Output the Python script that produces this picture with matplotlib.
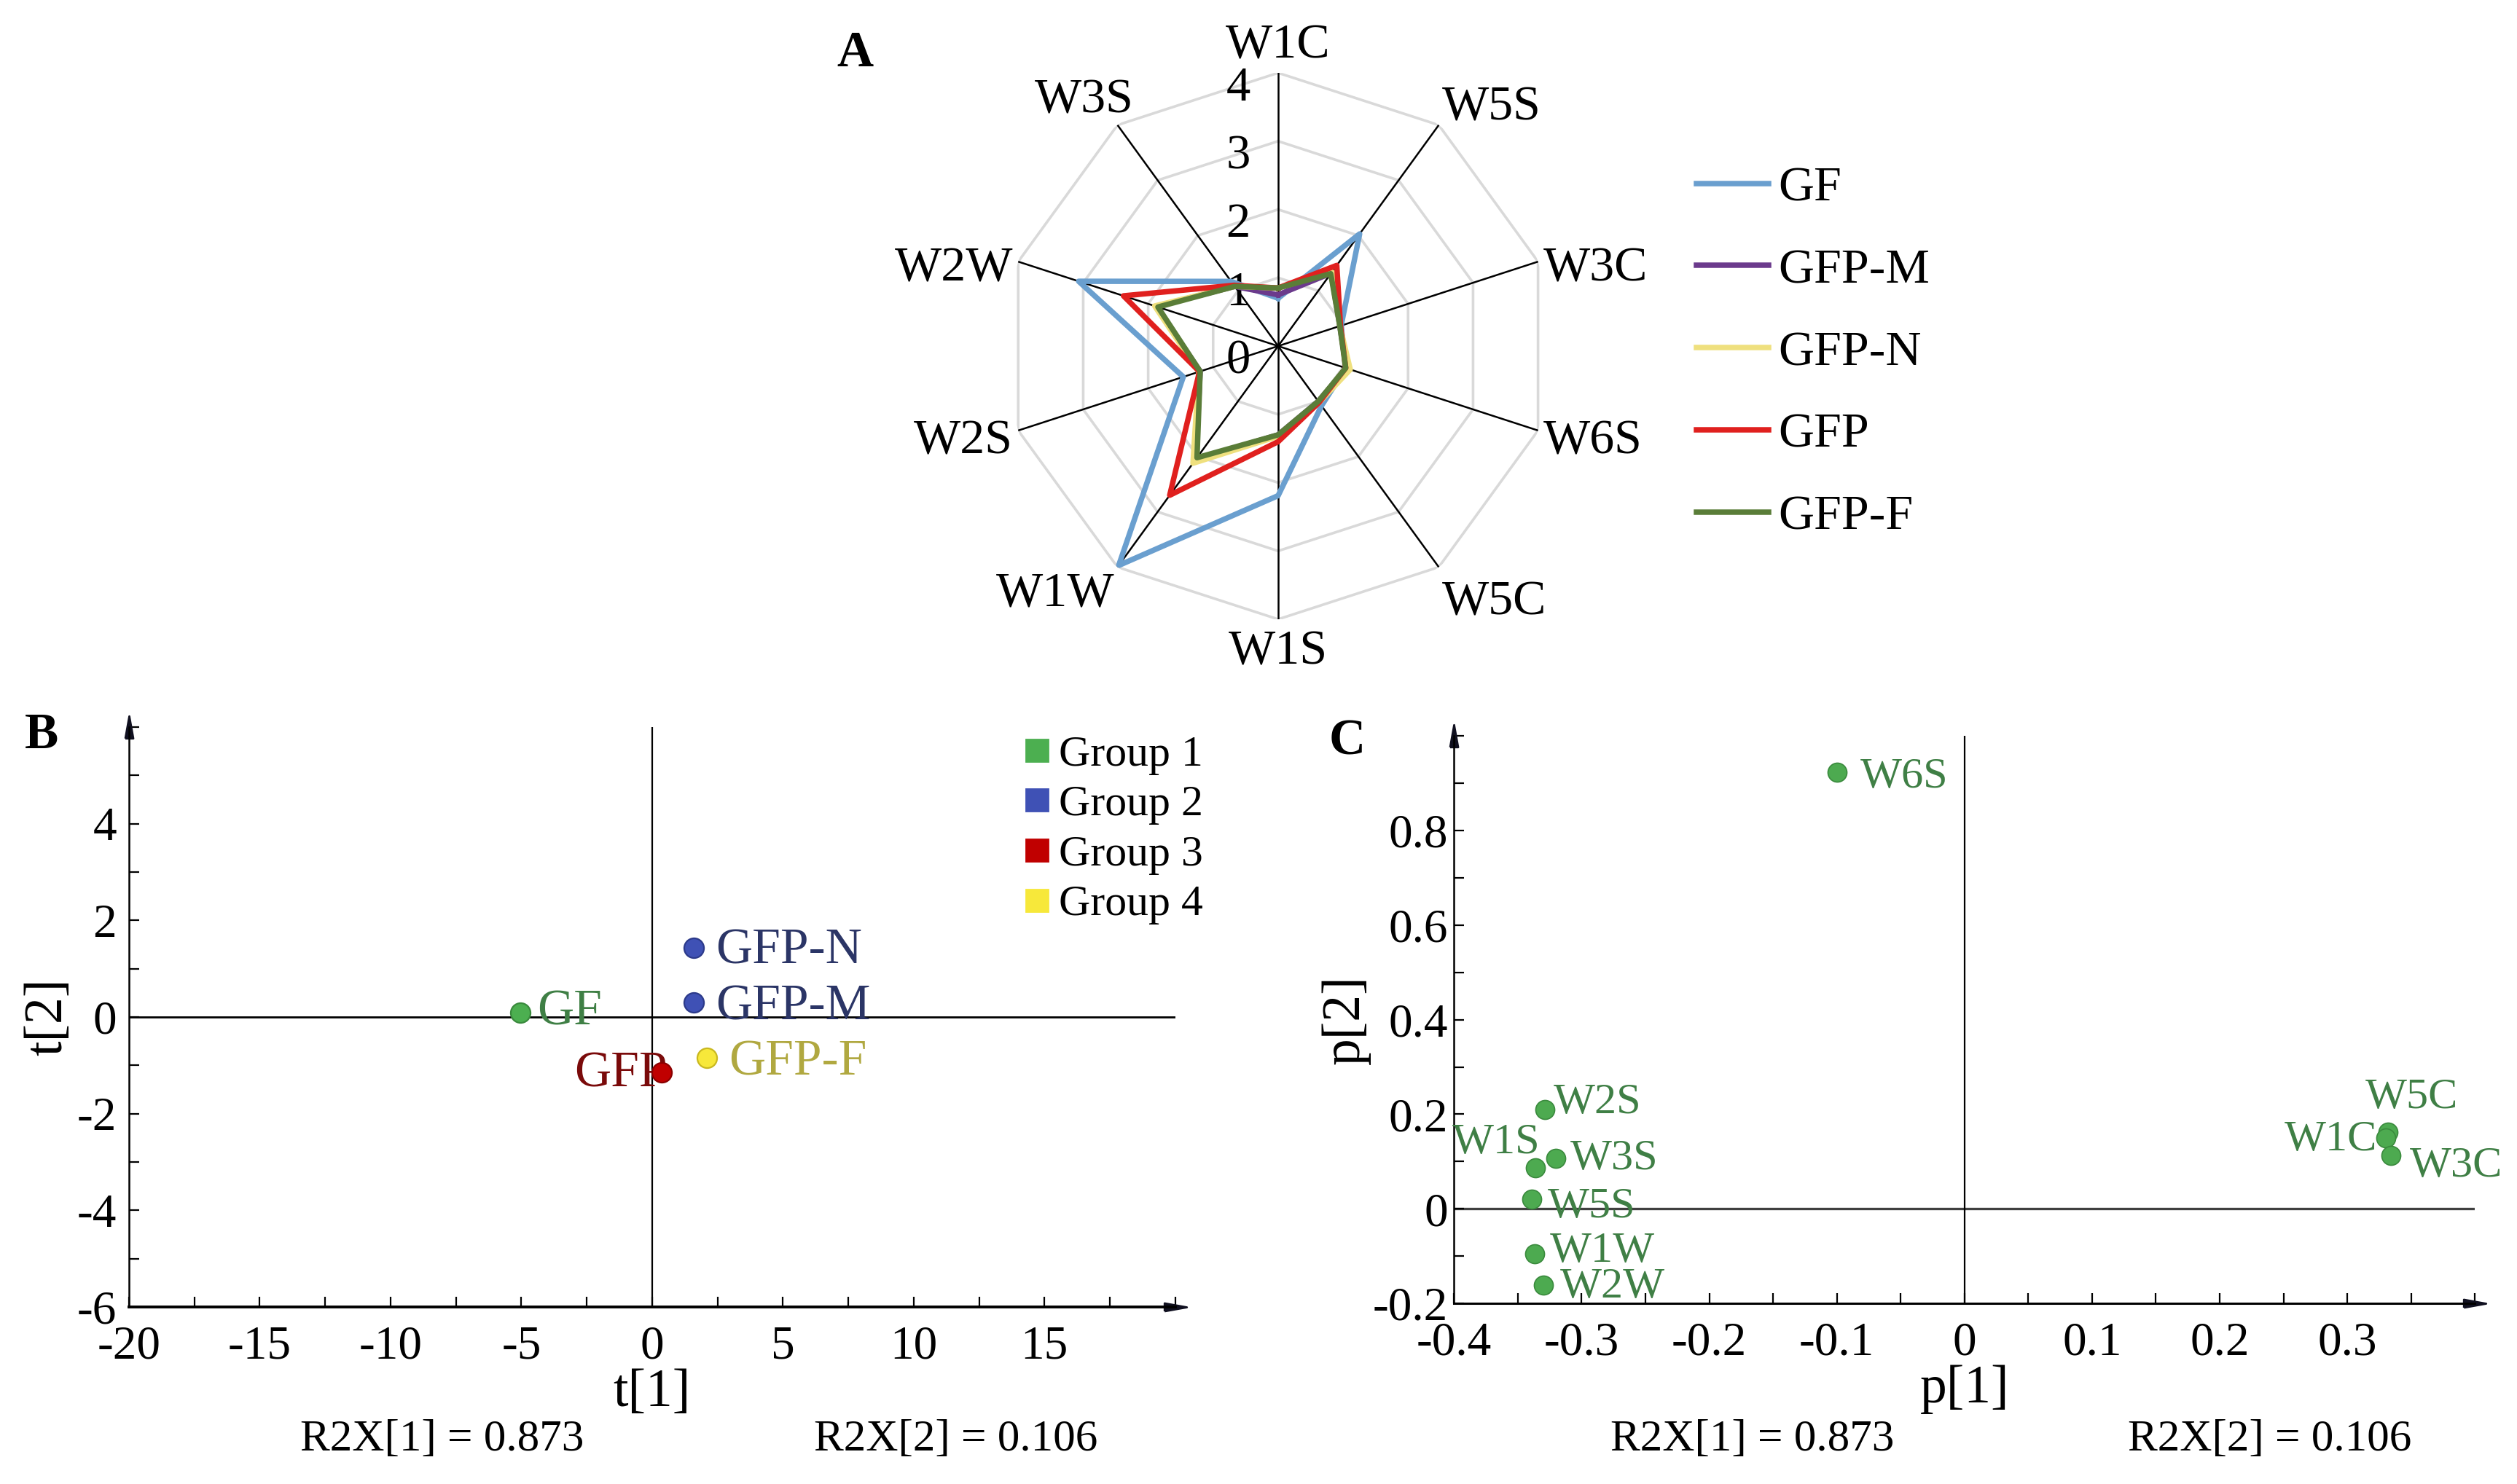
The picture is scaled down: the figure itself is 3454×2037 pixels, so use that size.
import matplotlib.pyplot as plt
import numpy as np
from matplotlib.lines import Line2D
from matplotlib.ticker import MultipleLocator

plt.rcParams['font.family'] = ['Liberation Serif', 'DejaVu Serif']
plt.rcParams['axes.unicode_minus'] = False

# panel A: e-nose radar
sensors = ['W1C', 'W5S', 'W3C', 'W6S', 'W5C', 'W1S', 'W1W', 'W2S', 'W2W', 'W3S']
radar_names = ['GF', 'GFP-M', 'GFP-N', 'GFP', 'GFP-F']
gf = [0.70, 2.03, 0.97, 1.04, 1.08, 2.19, 3.97, 1.46, 3.07, 1.17]
gfp_m = [0.75, 1.32, 0.95, 1.05, 1.00, 1.30, 2.05, 1.20, 1.88, 1.08]
gfp_n = [0.85, 1.34, 0.95, 1.11, 1.02, 1.32, 2.12, 1.22, 1.90, 1.08]
gfp = [0.85, 1.46, 0.96, 1.04, 1.02, 1.40, 2.70, 1.21, 2.38, 1.10]
gfp_f = [0.85, 1.31, 0.95, 1.04, 1.00, 1.30, 2.02, 1.20, 1.85, 1.08]
radar_ticks = [0, 1, 2, 3, 4]

# panel B: PCA scores
samples = ['GF', 'GFP-N', 'GFP-M', 'GFP-F', 'GFP']
t1 = [-5.05, 1.59, 1.59, 2.10, 0.38]
t2 = [0.09, 1.43, 0.30, -0.85, -1.15]
sample_group = [1, 2, 2, 4, 3]
groups = ['Group 1', 'Group 2', 'Group 3', 'Group 4']
b_xticks = [-20, -15, -10, -5, 0, 5, 10, 15]
b_yticks = [-6, -4, -2, 0, 2, 4]

# panel C: PCA loadings
load_names = ['W6S', 'W2S', 'W3S', 'W1S', 'W5S', 'W1W', 'W2W', 'W5C', 'W1C', 'W3C']
p1 = [-0.100, -0.329, -0.320, -0.336, -0.339, -0.337, -0.330, 0.332, 0.330, 0.334]
p2 = [0.923, 0.210, 0.107, 0.086, 0.020, -0.095, -0.161, 0.162, 0.150, 0.113]
c_xticks = [-0.4, -0.3, -0.2, -0.1, 0, 0.1, 0.2, 0.3]
c_xticklabels = ['-0.4', '-0.3', '-0.2', '-0.1', '0', '0.1', '0.2', '0.3']
c_yticks = [-0.2, 0, 0.2, 0.4, 0.6, 0.8]
c_yticklabels = ['-0.2', '0', '0.2', '0.4', '0.6', '0.8']

r2x_text = ['R2X[1] = 0.873', 'R2X[2] = 0.106']

radar_colors = ['#6a9fcf', '#6b3a8c', '#efe07e', '#e0201e', '#5a7d38']
group_colors = ['#4caf50', '#3f51b5', '#c00000', '#f7e83a']
group_edges = ['#3a8a3d', '#2c3a8a', '#8a0000', '#c9b820']
b_label_colors = {'GF': '#3f7f45', 'GFP-N': '#2b3566', 'GFP-M': '#2b3566',
                  'GFP-F': '#b0a840', 'GFP': '#7a0a0a'}
b_offsets = {'GF': (8.6, 0, 'left'), 'GFP-N': (10.8, -1.8, 'left'),
             'GFP-M': (10.8, -2.5, 'left'), 'GFP-F': (10.8, -2.2, 'left'),
             'GFP': (2.4, -1.0, 'right')}
c_offsets = {'W6S': (11.5, -2.5, 'left'), 'W2S': (4.5, 3.1, 'left'),
             'W3S': (7.2, -0.6, 'left'), 'W1S': (2.2, 12.4, 'right'),
             'W5S': (7.8, -3.7, 'left'), 'W1W': (7.6, 1.0, 'left'),
             'W2W': (8.3, -1.0, 'left'), 'W5C': (11.5, 17.0, 'center'),
             'W1C': (-4.0, -1.0, 'right'), 'W3C': (9.4, -5.4, 'left')}
radar_label_shift = {'W1C': (0, -0.5), 'W3S': (9.5, -1.0), 'W1W': (0, 0),
                     'W1S': (0, -2.5)}

W, H = 3455, 2037
fig = plt.figure(figsize=(W / 200, H / 200), dpi=200)


def px(x, y):
    return x / W, 1 - y / H


def arrow_axes(ax, bottom_lw):
    for s in ['top', 'right']:
        ax.spines[s].set_visible(False)
    ax.spines['left'].set_linewidth(0.9)
    ax.spines['bottom'].set_linewidth(bottom_lw)
    right = [(-1, -0.36), (1, 0), (-1, 0.36), (-1, -0.36)]
    up = [(-0.36, -1), (0, 1), (0.36, -1), (-0.36, -1)]
    ax.plot([1], [0], marker=right, color='#101020', markersize=11,
            transform=ax.transAxes, clip_on=False)
    ax.plot([0], [1], marker=up, color='#101020', markersize=11,
            transform=ax.transAxes, clip_on=False)
    ax.tick_params(which='both', direction='in', length=5, width=0.8,
                   labelsize=23.5)


# ---- A ----
ax_a = fig.add_axes([0.3991, 0.5827, 0.2171, 0.3682], projection='polar')
ax_a.set_theta_offset(np.pi / 2)
ax_a.set_theta_direction(-1)
ax_a.set_ylim(0, 4)
ax_a.grid(False)
ax_a.set_xticks([])
ax_a.set_yticks([])
ax_a.spines['polar'].set_visible(False)

angles = np.linspace(0, 2 * np.pi, len(sensors), endpoint=False)
closed = np.append(angles, angles[0])
for r in radar_ticks[1:]:
    ax_a.plot(closed, [r] * len(closed), color='#d9d9d9', lw=1.3, zorder=1)
for a in angles:
    ax_a.plot([a, a], [0, radar_ticks[-1]], color='black', lw=0.9, zorder=2)
for r in radar_ticks:
    ax_a.annotate(str(r), xy=(0, r), xytext=(-19.8, -7.6),
                  textcoords='offset points', ha='center', va='center',
                  fontsize=24, zorder=3, annotation_clip=False)

radar_lines = []
for name, vals, color in zip(radar_names, [gf, gfp_m, gfp_n, gfp, gfp_f],
                             radar_colors):
    line, = ax_a.plot(closed, np.append(vals, vals[0]), color=color, lw=2.7,
                      label=name, zorder=4)
    radar_lines.append(line)

for a, name in zip(angles, sensors):
    phi = np.pi / 2 - a
    c, s = np.cos(phi), np.sin(phi)
    ha = 'left' if c > 0.1 else ('right' if c < -0.1 else 'center')
    va = 'bottom' if s > 0.5 else ('top' if s < -0.5 else 'center')
    shift = radar_label_shift.get(name, (0, -4.5))
    ax_a.annotate(name, xy=(a, 4.08), xytext=shift, textcoords='offset points',
                  ha=ha, va=va, fontsize=24.5, annotation_clip=False)

fig.legend(handles=radar_lines, loc='upper left',
           bbox_to_anchor=px(2328, 228), frameon=False, fontsize=24.5,
           handlelength=1.45, handletextpad=0.2, labelspacing=0.75,
           borderpad=0, borderaxespad=0)

# ---- B ----
ax_b = fig.add_axes([0.0512, 0.1193, 0.4156, 0.3908])
ax_b.set_xlim(-20, 20)
ax_b.set_ylim(-6, 6)
arrow_axes(ax_b, 1.4)
ax_b.axhline(0, color='black', lw=1.0, zorder=1)
ax_b.axvline(0, color='black', lw=0.8, zorder=1)
ax_b.set_xticks(b_xticks)
ax_b.set_yticks(b_yticks)
ax_b.xaxis.set_minor_locator(MultipleLocator(2.5))
ax_b.yaxis.set_minor_locator(MultipleLocator(1))
ax_b.tick_params(axis='x', pad=9)
ax_b.tick_params(axis='y', pad=6)

for name, x, y, g in zip(samples, t1, t2, sample_group):
    ax_b.scatter(x, y, s=95, color=group_colors[g - 1],
                 edgecolor=group_edges[g - 1], lw=0.8, zorder=5)
    dx, dy, ha = b_offsets[name]
    ax_b.annotate(name, xy=(x, y), xytext=(dx, dy), textcoords='offset points',
                  ha=ha, va='center', fontsize=25,
                  color=b_label_colors[name], zorder=4)

group_handles = [Line2D([], [], marker='s', ls='none', color=c, markersize=10.5)
                 for c in group_colors]
ax_b.legend(group_handles, groups, loc='upper left',
            bbox_to_anchor=px(1399, 1009), bbox_transform=fig.transFigure,
            frameon=False, fontsize=21.5, handlelength=0.8, handletextpad=0.1,
            labelspacing=0.23, borderpad=0, borderaxespad=0)

ax_b.set_xlabel('t[1]', fontsize=26.5, labelpad=0)
ax_b.set_ylabel('t[2]', fontsize=26.5, labelpad=2)

# ---- C ----
ax_c = fig.add_axes([0.5775, 0.1217, 0.4055, 0.3824])
ax_c.set_xlim(-0.4, 0.4)
ax_c.set_ylim(-0.2, 1.0)
arrow_axes(ax_c, 1.1)
ax_c.axhline(0, color='#404040', lw=1.2, zorder=1)
ax_c.axvline(0, color='black', lw=0.8, zorder=1)
ax_c.set_xticks(c_xticks, c_xticklabels)
ax_c.set_yticks(c_yticks, c_yticklabels)
ax_c.xaxis.set_minor_locator(MultipleLocator(0.05))
ax_c.yaxis.set_minor_locator(MultipleLocator(0.1))
ax_c.tick_params(axis='x', pad=9)
ax_c.tick_params(axis='y', pad=3)

ax_c.scatter(p1, p2, s=88, color='#4daa50', edgecolor='#3a8a3d', lw=0.6,
             zorder=5)
for name, x, y in zip(load_names, p1, p2):
    dx, dy, ha = c_offsets[name]
    ax_c.annotate(name, xy=(x, y), xytext=(dx, dy), textcoords='offset points',
                  ha=ha, va='center', fontsize=21.7, color='#3f7f45', zorder=4)

ax_c.set_xlabel('p[1]', fontsize=26.5, labelpad=0)
ax_c.set_ylabel('p[2]', fontsize=26.5, labelpad=1)

# footers and panel letters
for x, txt in zip([607, 1312], r2x_text):
    fig.text(*px(x, 1976), txt, ha='center', va='center', fontsize=22)
for x, txt in zip([2405, 3115], r2x_text):
    fig.text(*px(x, 1976), txt, ha='center', va='center', fontsize=22)

for letter, (x, y) in zip(['A', 'B', 'C'], [(1173, 74), (57, 1010), (1849, 1019)]):
    fig.text(*px(x, y), letter, ha='center', va='center', fontsize=25,
             fontweight='bold')

fig.savefig('out.png', dpi=200, facecolor='white')
